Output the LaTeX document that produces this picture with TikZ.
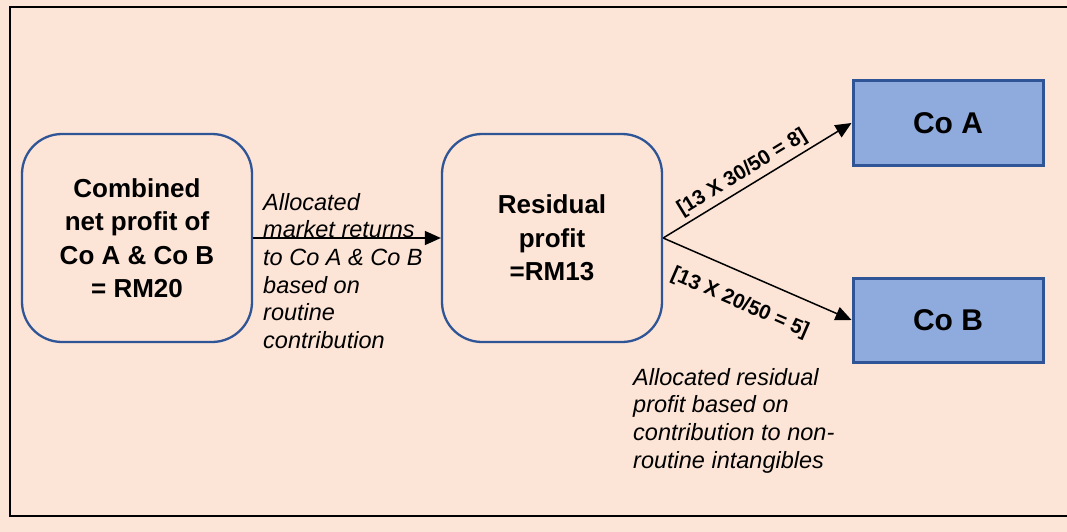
\documentclass[tikz,border=0pt]{standalone}
\usepackage{fontspec}
\setmainfont{Liberation Sans}
\usetikzlibrary{arrows.meta}
\definecolor{bg}{HTML}{FCE4D6}
\definecolor{edge}{HTML}{2F5597}
\definecolor{cofill}{HTML}{8FAADC}

\begin{document}
\begin{tikzpicture}[x=1pt,y=-1pt,
  roundbox/.style={draw=edge, line width=2.3pt, rounded corners=40pt,
    minimum width=230pt, minimum height=208pt, align=center,
    font=\fontsize{26}{33.5}\selectfont\bfseries},
  cobox/.style={draw=edge, fill=cofill, line width=3pt,
    minimum width=190pt, minimum height=84pt,
    font=\fontsize{30}{36}\selectfont\bfseries},
  note/.style={align=left, inner sep=0pt, anchor=north west,
    font=\fontsize{23.5}{27.6}\selectfont\itshape},
  flow/.style={line width=1.5pt, -{Triangle[length=16pt,width=14pt]}},
  ratio/.style={font=\fontsize{20.5}{23}\selectfont\bfseries, inner sep=2pt}]

  % page and frame
  \fill[bg] (0,0) rectangle (1067,532);
  \useasboundingbox (0,0) rectangle (1067,532);
  \draw[line width=2pt] (1070,7) -- (10,7) -- (10,516) -- (1070,516);

  % boxes
  \node[roundbox] (net) at (137,238) {Combined\\net profit of\\Co A \& Co B\\= RM20};
  \node[roundbox, minimum width=220pt] (res) at (552,238) {Residual\\profit\\=RM13};
  \node[cobox] (coa) at (948,123) {Co A};
  \node[cobox] (cob) at (948,320) {Co B};

  % connectors
  \draw[flow] (net.east) -- (res.west);
  \draw[flow] (res.east) -- (coa.west)
    node[pos=0.46, sloped, above=2pt, ratio] (ra) {[13 X 30/50 = 8]};
  \draw[flow] (res.east) -- (cob.west)
    node[pos=0.47, sloped, below=17pt, ratio] (rb) {[13 X 20/50 = 5]};

  % explanatory notes
  \node[note] (n1) at (263,193) {Allocated\\market returns\\to Co A \& Co B\\based on\\routine\\contribution};
  \node[note] (n2) at (633,368) {Allocated residual\\profit based on\\contribution to non-\\routine intangibles};
\end{tikzpicture}
\end{document}
